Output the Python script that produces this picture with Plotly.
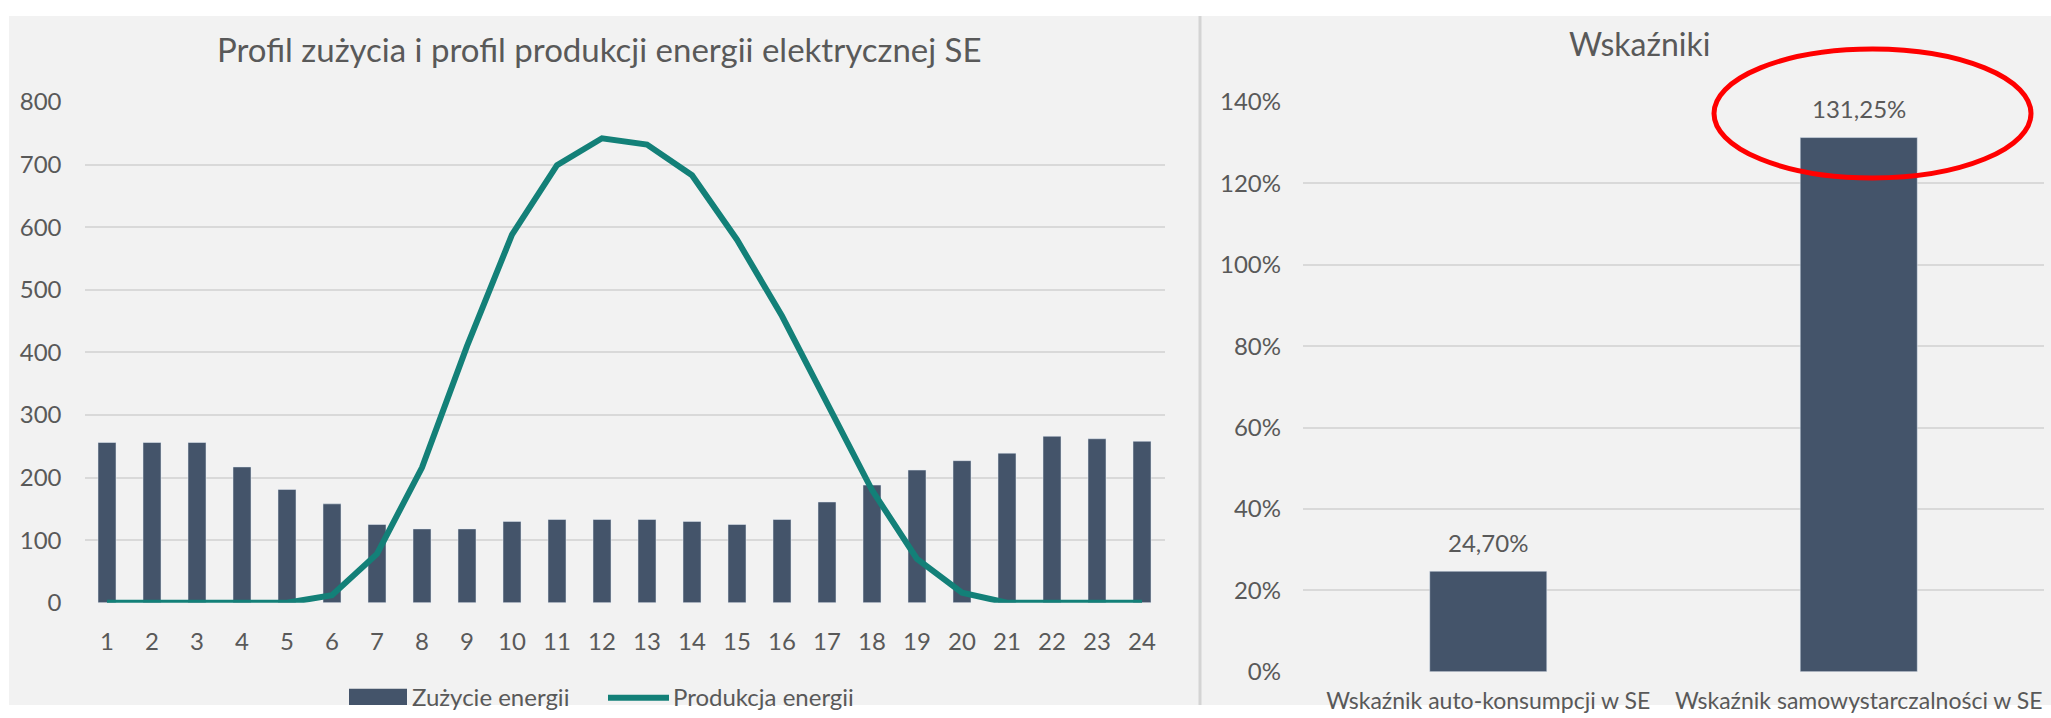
import plotly.graph_objects as go

# ---------------- data ----------------
hours = list(range(1, 25))
zuzycie = [256, 256, 256, 217, 181, 158, 125, 118, 118, 130, 133, 133,
           133, 130, 125, 133, 161, 188, 212, 227, 239, 266, 262, 258]
produkcja = [0, 0, 0, 0, 0, 12, 78, 216, 410, 588, 699, 742,
             732, 683, 580, 458, 318, 180, 70, 16, 0, 0, 0, 0]

wsk_labels = ["Wskaźnik auto-konsumpcji w SE", "Wskaźnik samowystarczalności w SE"]
wsk_values = [0.2470, 1.3125]

left_title = "Profil zużycia i profil produkcji energii elektrycznej SE"
right_title = "Wskaźniki"
legend_names = ["Zużycie energii", "Produkcja energii"]

# ---------------- style ----------------
W, H = 2051, 718
BAR = "#44546a"
LINE = "#138078"
GRID = "#d9d9d9"
TXT = "#595959"
BG = "#f2f2f2"
FONT = "Lato, 'Open Sans', sans-serif"

# vertical placement calibration (target pixel -> layout pixel)
VOFF, VSC = 16.0, 0.96


def px(x):
    return x / W


def py(y):
    v = (y - VOFF) / VSC
    v = min(max(v, 0), H)
    return 1 - v / H


fig = go.Figure()

fig.add_trace(go.Bar(x=hours, y=zuzycie, name=legend_names[0], marker_color=BAR,
                     width=0.4, xaxis="x", yaxis="y", showlegend=False))
fig.add_trace(go.Scatter(x=hours, y=produkcja, name=legend_names[1], mode="lines",
                         line=dict(color=LINE, width=6), xaxis="x", yaxis="y",
                         showlegend=False))
fig.add_trace(go.Bar(x=wsk_labels, y=wsk_values, marker_color=BAR, width=0.316,
                     xaxis="x2", yaxis="y2", showlegend=False))

shapes = [
    # grey panel (white strip on the left as in the reference)
    dict(type="rect", xref="paper", yref="paper", x0=px(9), x1=1, y0=0, y1=1,
         fillcolor=BG, line=dict(width=0), layer="below"),
    # separator
    dict(type="line", xref="paper", yref="paper", x0=px(1200), x1=px(1200), y0=0, y1=1,
         line=dict(color="#d4d4d4", width=3), layer="below"),
    # legend symbols
    dict(type="rect", xref="paper", yref="paper", x0=px(349), x1=px(407), y0=py(706), y1=py(689),
         fillcolor=BAR, line=dict(width=0)),
    dict(type="line", xref="paper", yref="paper", x0=px(608), x1=px(669), y0=py(698), y1=py(698),
         line=dict(color=LINE, width=6)),
    # red ellipse highlight
    dict(type="circle", xref="paper", yref="paper", x0=px(1714), x1=px(2031), y0=py(178), y1=py(49),
         line=dict(color="#ff0000", width=5), fillcolor="rgba(0,0,0,0)"),
]

annotations = [
    dict(text=left_title, xref="paper", yref="paper", x=px(599), y=py(49), showarrow=False,
         xanchor="center", yanchor="middle", font=dict(size=33, color=TXT, family=FONT)),
    dict(text=right_title, xref="paper", yref="paper", x=px(1639), y=py(44), showarrow=False,
         xanchor="center", yanchor="middle", font=dict(size=32, color=TXT, family=FONT)),
    dict(text=legend_names[0], xref="paper", yref="paper", x=px(410), y=py(697), showarrow=False,
         xanchor="left", yanchor="middle", font=dict(size=24, color=TXT, family=FONT)),
    dict(text=legend_names[1], xref="paper", yref="paper", x=px(671), y=py(697), showarrow=False,
         xanchor="left", yanchor="middle", font=dict(size=24, color=TXT, family=FONT)),
]
# data labels of the indicator bars
for lab, val in zip(wsk_labels, wsk_values):
    annotations.append(dict(
        text=f"{val * 100:.2f}%".replace(".", ","), x=lab, y=val, xref="x2", yref="y2",
        showarrow=False, xanchor="center", yanchor="middle", yshift=29,
        font=dict(size=24, color=TXT, family=FONT)))

tickfont = dict(size=24, color=TXT, family=FONT)

fig.update_layout(
    width=W, height=H,
    margin=dict(l=0, r=0, t=0, b=0),
    paper_bgcolor="white",
    plot_bgcolor="rgba(0,0,0,0)",
    separators=", ",
    font=dict(family=FONT, color=TXT),
    showlegend=False,
    shapes=shapes,
    annotations=annotations,
    xaxis=dict(domain=[px(84.5), px(1164.5)], anchor="y", range=[0.5, 24.5],
               tickvals=hours, ticktext=[str(h) for h in hours], showgrid=False,
               zeroline=False, showline=False, ticks="", tickfont=tickfont,
               ticklabelstandoff=22),
    yaxis=dict(domain=[py(603), py(102)], anchor="x", range=[0, 800], dtick=100,
               showgrid=True, gridcolor=GRID, gridwidth=1.5, zeroline=False,
               showline=False, ticks="", tickfont=tickfont, ticklabelstandoff=22),
    xaxis2=dict(domain=[px(1303), px(2044)], anchor="y2", range=[-0.5, 1.5],
                showgrid=False, zeroline=False, showline=False, ticks="",
                tickfont=dict(size=23, color=TXT, family=FONT), ticklabelstandoff=13),
    yaxis2=dict(domain=[py(672), py(102)], anchor="x2", range=[0, 1.4], dtick=0.2,
                tickformat=".0%", showgrid=True, gridcolor=GRID, gridwidth=1.5,
                zeroline=False, showline=False, ticks="", tickfont=tickfont,
                ticklabelstandoff=21),
)

page_bg = "linear-gradient(#ffffff 0px, #ffffff 9px, #f2f2f2 9px, #f2f2f2 100%)"
fig.write_html(
    "out.html",
    config={"displayModeBar": False},
    post_script=(
        "document.body.style.margin='0';"
        "document.body.style.overflow='hidden';"
        "document.documentElement.style.overflow='hidden';"
        f"document.body.style.background='{page_bg}';"
        f"document.documentElement.style.background='{page_bg}';"
    ),
)
